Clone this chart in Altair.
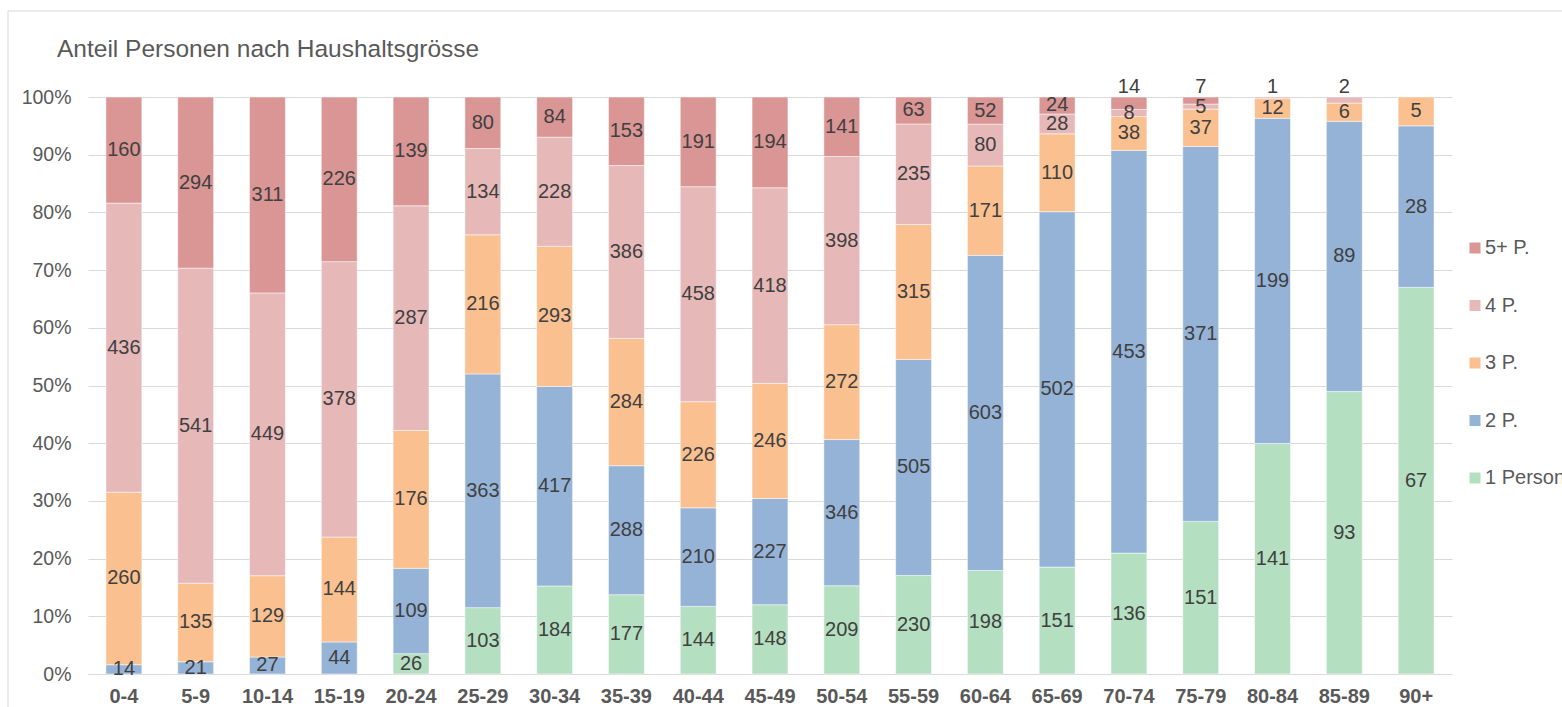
import altair as alt
import pandas as pd

# Age groups and persons per household size (counts)
age_groups = ["0-4", "5-9", "10-14", "15-19", "20-24", "25-29", "30-34", "35-39",
              "40-44", "45-49", "50-54", "55-59", "60-64", "65-69", "70-74",
              "75-79", "80-84", "85-89", "90+"]
p1 = [0, 0, 0, 0, 26, 103, 184, 177, 144, 148, 209, 230, 198, 151, 136, 151, 141, 93, 67]
p2 = [14, 21, 27, 44, 109, 363, 417, 288, 210, 227, 346, 505, 603, 502, 453, 371, 199, 89, 28]
p3 = [260, 135, 129, 144, 176, 216, 293, 284, 226, 246, 272, 315, 171, 110, 38, 37, 12, 6, 5]
p4 = [436, 541, 449, 378, 287, 134, 228, 386, 458, 418, 398, 235, 80, 28, 8, 5, 1, 2, 0]
p5 = [160, 294, 311, 226, 139, 80, 84, 153, 191, 194, 141, 63, 52, 24, 14, 7, 0, 0, 0]

series_names = ["1 Person", "2 P.", "3 P.", "4 P.", "5+ P."]
series_colors = ["#b5dfc1", "#95b3d7", "#fac090", "#e6b9b8", "#d99694"]
# groups whose top segment label sits above the bar
labels_above = ["70-74", "75-79", "80-84", "85-89"]

chart_title = "Anteil Personen nach Haushaltsgrösse"

rows = []
for s_idx, (name, vals) in enumerate(zip(series_names, [p1, p2, p3, p4, p5])):
    for cat, v in zip(age_groups, vals):
        rows.append({"cat": cat, "series": name, "value": v, "rank": s_idx + 1})
df = pd.DataFrame(rows)

# mark the topmost non-zero segment of selected groups
df["above"] = False
for cat in labels_above:
    sub = df[(df["cat"] == cat) & (df["value"] > 0)]
    top_idx = sub["rank"].idxmax()
    df.loc[top_idx, "above"] = True

FONT = "Liberation Sans"
GRID = "#d9d9d9"
TXT = "#595959"

legend_order = list(reversed(series_names))
legend_colors = list(reversed(series_colors))

x_enc = alt.X("cat:N", sort=age_groups,
              scale=alt.Scale(paddingInner=0.5, paddingOuter=0.25),
              axis=alt.Axis(title=None, labelAngle=0, labelFont=FONT, labelFontSize=20,
                            labelFontWeight="bold", labelColor=TXT, labelPadding=12,
                            ticks=False, domainColor=GRID, domainWidth=1, grid=False))

y_scale = alt.Scale(domain=[0, 1], nice=False)
y_axis = alt.Axis(title=None, format=".0%", values=[i / 10 for i in range(11)],
                  labelFont=FONT, labelFontSize=19.5, labelColor=TXT,
                  labelPadding=17, ticks=False, domain=False, grid=True,
                  gridColor=GRID, gridWidth=1)

bars = alt.Chart(df).transform_filter("datum.value > 0").mark_bar(
    stroke="white", strokeWidth=0.5
).encode(
    x=x_enc,
    y=alt.Y("value:Q", stack="normalize", scale=y_scale, axis=y_axis),
    color=alt.Color("series:N",
                    scale=alt.Scale(domain=legend_order, range=legend_colors),
                    legend=alt.Legend(orient="none", legendX=1377, legendY=141,
                                      title=None, symbolType="square", symbolSize=121,
                                      symbolStrokeWidth=0, labelFont=FONT,
                                      labelFontSize=20, labelColor=TXT, labelOffset=0,
                                      rowPadding=37.5, padding=0)),
    order=alt.Order("rank:Q", sort="ascending"),
)

labelled = alt.Chart(df).transform_joinaggregate(
    total="sum(value)", groupby=["cat"]
).transform_window(
    cum="sum(value)", groupby=["cat"], sort=[alt.SortField("rank")], frame=[None, 0]
).transform_calculate(
    mid="(datum.cum - datum.value / 2) / datum.total", one="1"
).transform_filter("datum.value > 0")

inside = labelled.transform_filter("!datum.above").mark_text(
    font=FONT, fontSize=20, color="#404040", baseline="middle"
).encode(
    x=alt.X("cat:N", sort=age_groups),
    y=alt.Y("mid:Q", scale=y_scale, title=None),
    text=alt.Text("value:Q"),
)

above = labelled.transform_filter("datum.above").mark_text(
    font=FONT, fontSize=20, color="#404040", baseline="middle", dy=-10
).encode(
    x=alt.X("cat:N", sort=age_groups),
    y=alt.Y("one:Q", scale=y_scale, title=None),
    text=alt.Text("value:Q"),
)

title_df = pd.DataFrame({"t": [chart_title]})
title = alt.Chart(title_df).mark_text(
    align="left", baseline="alphabetic", font=FONT, fontSize=24.5, color=TXT
).encode(x=alt.value(-31), y=alt.value(-40), text="t:N")

frame_df = pd.DataFrame({"f": [0]})
frame_top = alt.Chart(frame_df).mark_rule(color=GRID, strokeWidth=1).encode(
    x=alt.value(-80), x2=alt.value(1500), y=alt.value(-86))
frame_left = alt.Chart(frame_df).mark_rule(color=GRID, strokeWidth=1).encode(
    x=alt.value(-80), y=alt.value(-86), y2=alt.value(640))

chart = alt.layer(bars, inside, above, frame_top, frame_left, title).properties(
    width=1364, height=577,
    autosize=alt.AutoSizeParams(type="none"),
    padding={"left": 88, "top": 97, "right": 110, "bottom": 33},
    background="white",
).configure_view(stroke=None)

chart.save("out.html", embed_options={"renderer": "svg", "actions": False})
